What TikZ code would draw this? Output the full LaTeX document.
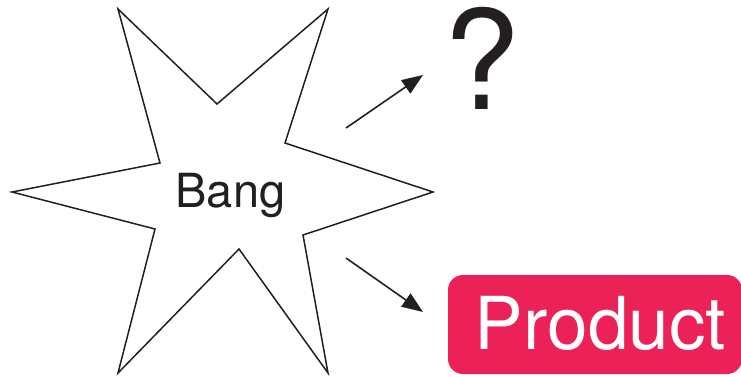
\documentclass[tikz,border=0pt]{standalone}
\usepackage{fontspec}
\setmainfont{TeX Gyre Heros}
\usetikzlibrary{arrows.meta}
\definecolor{prodred}{RGB}{236,33,88}
\definecolor{ink}{RGB}{35,31,32}
\tikzset{
  starline/.style={draw=ink, line width=1.5pt, line join=miter},
  arrowline/.style={draw=ink, line width=1.6pt, -{Triangle[length=21pt,width=16pt]}},
  prodbox/.style={fill=prodred, rounded corners=15pt},
}
\begin{document}
\begin{tikzpicture}[x=1pt,y=-1pt]
\useasboundingbox (0,0) rectangle (741,376);
% star
\draw[starline] (118,9) -- (217,104) -- (328,9) -- (285,143) -- (433,192) -- (303,235)
  -- (328,373) -- (239,249) -- (118,373) -- (155,229) -- (12,192) -- (160,163) -- cycle;
\node[anchor=base, inner sep=0pt, text=ink, font=\fontsize{47}{50}\selectfont] (bang) at (230.5,207) {Bang};
% question mark
\node[anchor=base, inner sep=0pt, text=ink, font=\fontsize{138}{140}\selectfont] (q) at (482,109) {?};
% product box
\fill[prodbox] (448,275) rectangle (742,374);
\node[anchor=base, inner sep=0pt, text=white, font=\fontsize{73}{76}\selectfont] (prod) at (600.5,349) {Product};
% arrows
\coordinate (a1s) at (346,128);
\coordinate (a1e) at (423,75);
\coordinate (a2s) at (346,258);
\coordinate (a2e) at (423,312);
\draw[arrowline] (a1s) -- (a1e);
\draw[arrowline] (a2s) -- (a2e);
\end{tikzpicture}
\end{document}
